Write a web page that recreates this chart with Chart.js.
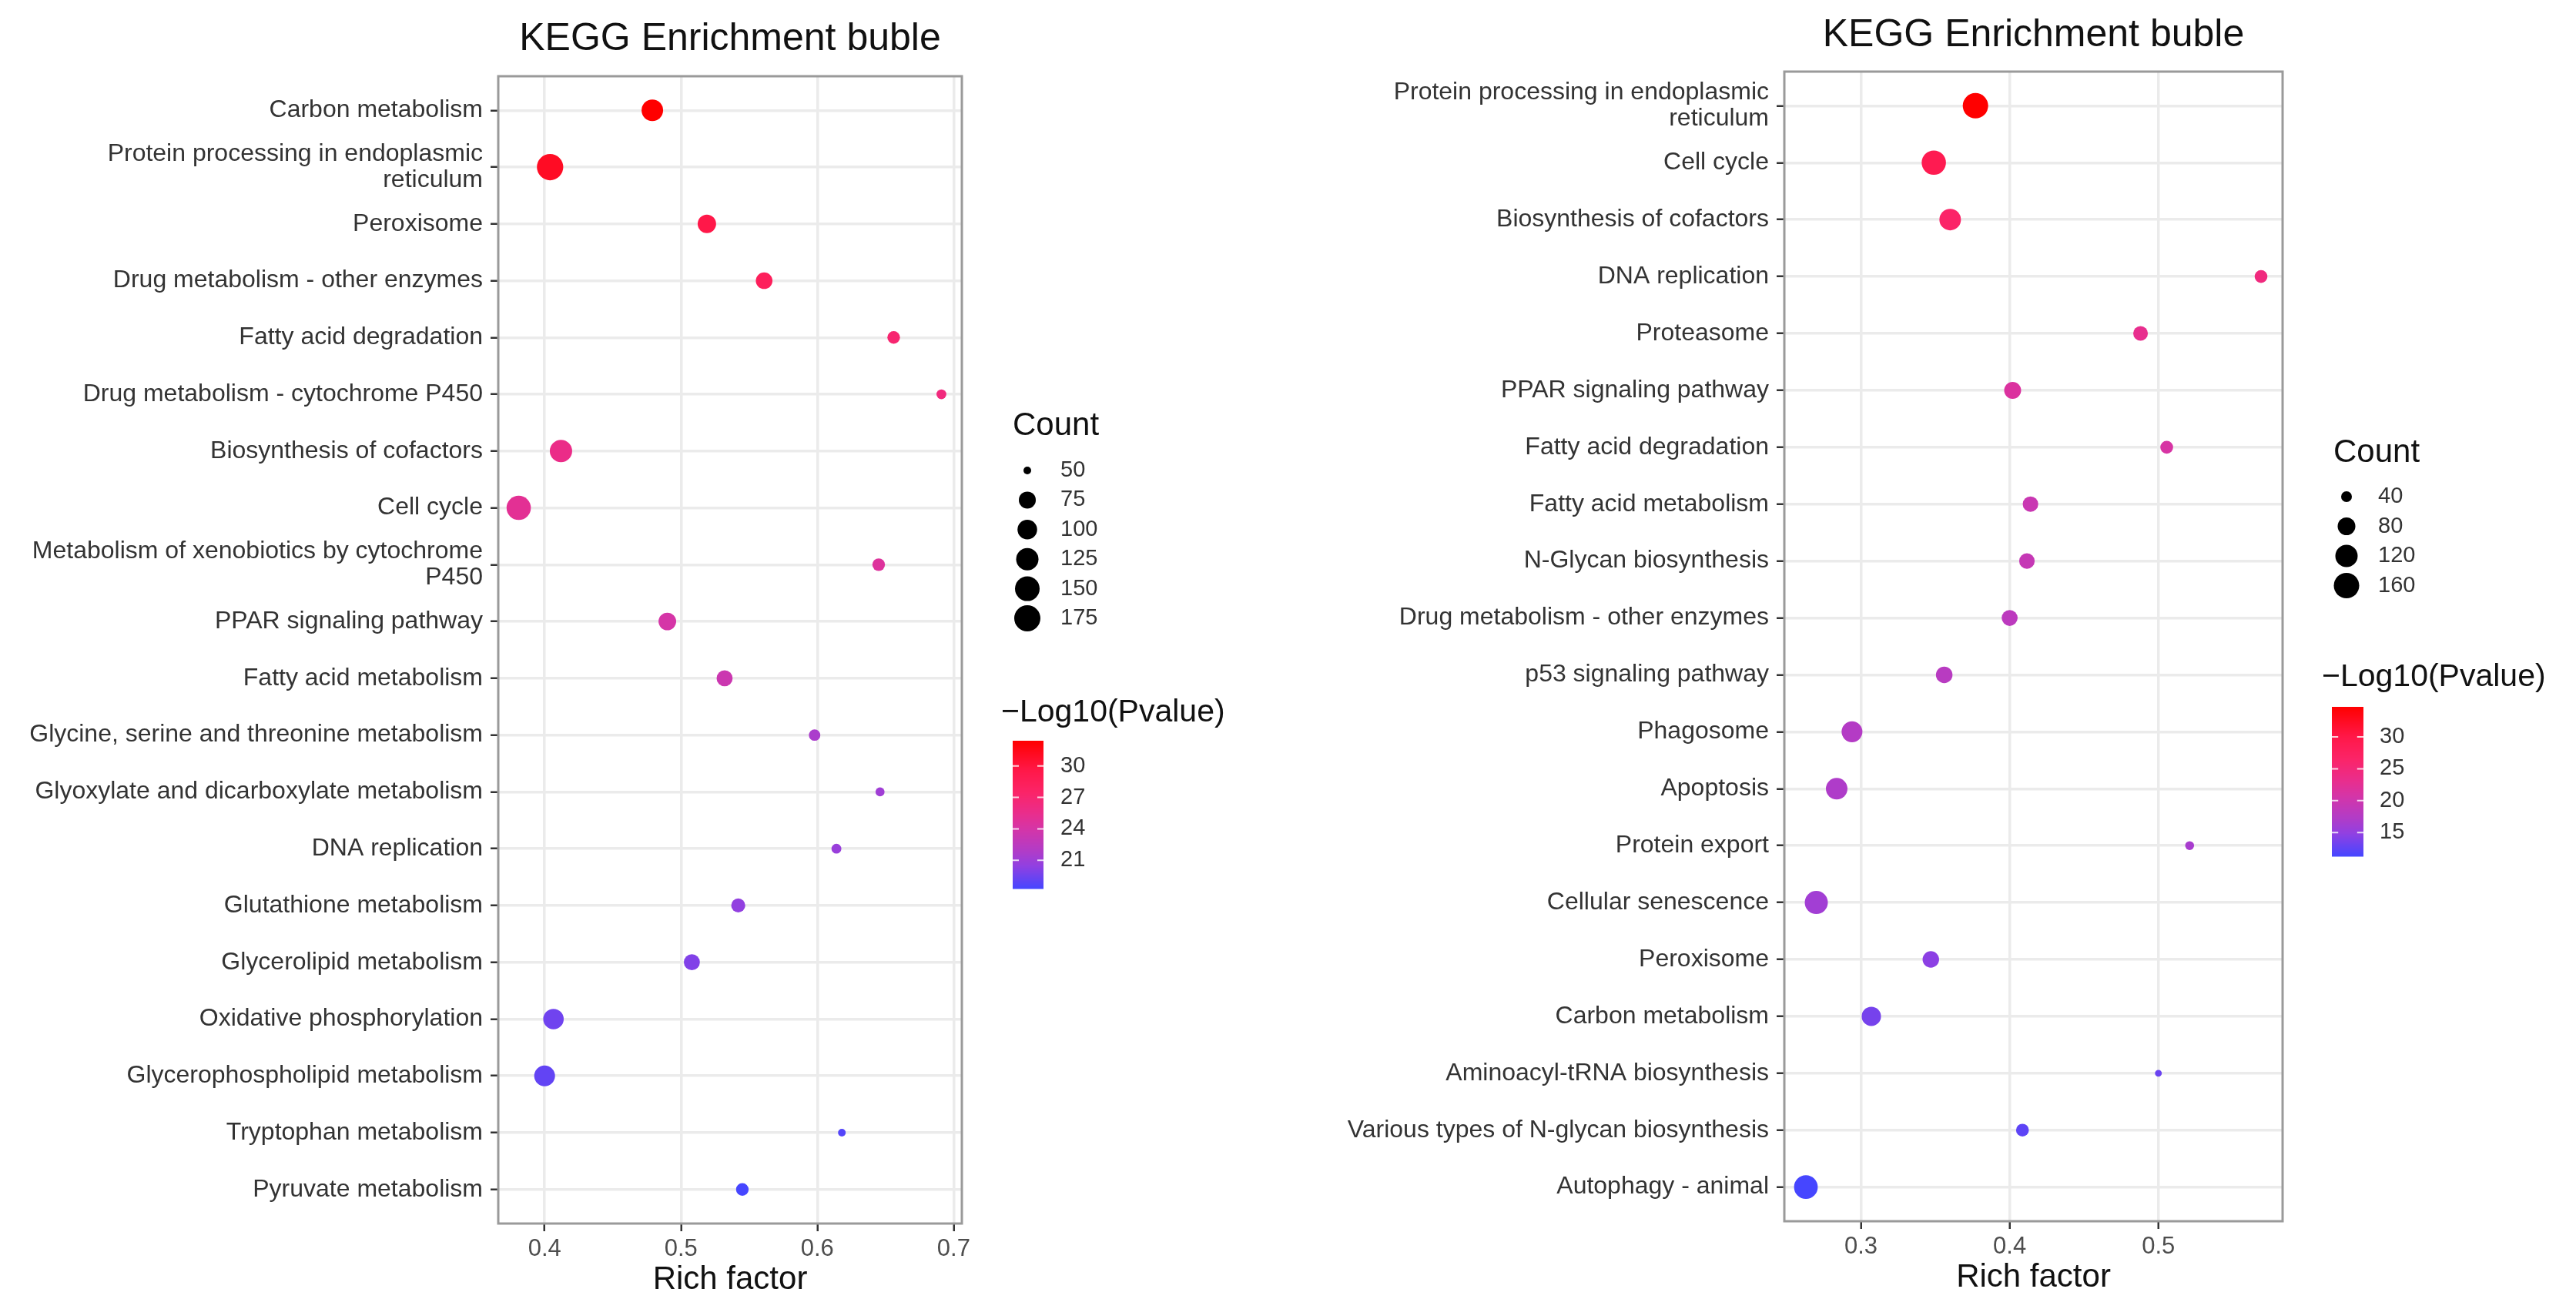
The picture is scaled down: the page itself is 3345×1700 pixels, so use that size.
<!DOCTYPE html>
<html><head><meta charset="utf-8">
<script src="https://cdn.jsdelivr.net/npm/chart.js@4.4.0/dist/chart.umd.min.js"></script>
<style>
html,body{margin:0;padding:0;background:#fff;width:3345px;height:1700px;overflow:hidden}
canvas{position:absolute;top:0}
#left{left:0;width:1690px;height:1700px}
#right{left:1690px;width:1655px;height:1700px}
</style></head>
<body>
<canvas id="left" width="1690" height="1700"></canvas>
<canvas id="right" width="1655" height="1700"></canvas>
<script>
// ---------------- DATA ----------------
const leftCategories = [
  "Carbon metabolism",
  "Protein processing in endoplasmic\nreticulum",
  "Peroxisome",
  "Drug metabolism - other enzymes",
  "Fatty acid degradation",
  "Drug metabolism - cytochrome P450",
  "Biosynthesis of cofactors",
  "Cell cycle",
  "Metabolism of xenobiotics by cytochrome\nP450",
  "PPAR signaling pathway",
  "Fatty acid metabolism",
  "Glycine, serine and threonine metabolism",
  "Glyoxylate and dicarboxylate metabolism",
  "DNA replication",
  "Glutathione metabolism",
  "Glycerolipid metabolism",
  "Oxidative phosphorylation",
  "Glycerophospholipid metabolism",
  "Tryptophan metabolism",
  "Pyruvate metabolism"
];
const leftRichFactor = [0.479,0.404,0.519,0.561,0.656,0.691,0.412,0.381,0.645,0.490,0.532,0.598,0.646,0.614,0.542,0.508,0.4065,0.400,0.618,0.545];
const leftCount      = [117,178,88,74,62,55,125,146,62,81,72,59,53,55,66,72,107,110,50,62];
const leftLogP       = [32.4,31.0,29.5,28.3,27.0,26.3,25.7,25.0,24.6,24.0,23.4,21.6,21.1,20.8,20.5,20.0,19.5,19.1,18.7,18.3];
const leftXTicks     = [0.4,0.5,0.6,0.7];
const leftCountBreaks = [50,75,100,125,150,175];
const leftPBreaks    = [21,24,27,30];

const rightCategories = [
  "Protein processing in endoplasmic\nreticulum",
  "Cell cycle",
  "Biosynthesis of cofactors",
  "DNA replication",
  "Proteasome",
  "PPAR signaling pathway",
  "Fatty acid degradation",
  "Fatty acid metabolism",
  "N-Glycan biosynthesis",
  "Drug metabolism - other enzymes",
  "p53 signaling pathway",
  "Phagosome",
  "Apoptosis",
  "Protein export",
  "Cellular senescence",
  "Peroxisome",
  "Carbon metabolism",
  "Aminoacyl-tRNA biosynthesis",
  "Various types of N-glycan biosynthesis",
  "Autophagy - animal"
];
const rightRichFactor = [0.377,0.349,0.360,0.569,0.488,0.402,0.5056,0.414,0.4116,0.400,0.356,0.294,0.2837,0.521,0.270,0.347,0.307,0.500,0.4086,0.263];
const rightCount      = [160,144,112,49,59,74,49,64,64,67,71,105,112,33,129,71,92,27,49,136];
const rightLogP       = [34.7,29.0,26.5,24.5,23.0,21.5,21.0,19.6,19.2,18.3,17.9,17.5,17.1,16.6,16.1,14.6,13.6,13.0,12.4,11.3];
const rightXTicks     = [0.3,0.4,0.5];
const rightCountBreaks = [40,80,120,160];
const rightPBreaks    = [15,20,25,30];

// ---------------- STYLE ----------------
const FONT = '"Liberation Sans", Arial, Helvetica, sans-serif';
// colour ramp (low -> high), sampled from the reference colour bar
const RAMP_POS = [0, 0.15, 0.25, 0.4, 0.5, 0.65, 0.8, 1];
const RAMP_COL = ['#4646FF','#9040E2','#B03CC8','#D435A8','#E82E8E','#FB2468','#FF1848','#FF0000'];

function hexToRgb(h){h=h.replace('#','');return [parseInt(h.substr(0,2),16),parseInt(h.substr(2,2),16),parseInt(h.substr(4,2),16)];}
const RAMP_RGB = RAMP_COL.map(hexToRgb);
function colorFor(v,vmin,vmax){let t=(v-vmin)/(vmax-vmin);t=Math.max(0,Math.min(1,t));
  let i=0;while(i<RAMP_POS.length-2&&t>RAMP_POS[i+1])i++;
  const u=(t-RAMP_POS[i])/(RAMP_POS[i+1]-RAMP_POS[i]);
  const c=[0,1,2].map(k=>Math.round(RAMP_RGB[i][k]+u*(RAMP_RGB[i+1][k]-RAMP_RGB[i][k])));
  return 'rgb('+c.join(',')+')';}

// size scale: diameter (px) at legend breaks, interpolated in log(count)
function diamFor(c,breaks,px){const lc=Math.log(c),lb=breaks.map(Math.log);let i=0;
  if(lc<=lb[0])i=0;else if(lc>=lb[lb.length-1])i=lb.length-2;else{while(lc>lb[i+1])i++;}
  const t=(lc-lb[i])/(lb[i+1]-lb[i]);return Math.max(4,px[i]+t*(px[i+1]-px[i]));}

function makeChart(cfg){
  const canvas=document.getElementById(cfg.id);
  const cw=canvas.width,ch=canvas.height,ox=cfg.offsetX;
  const n=cfg.categories.length;
  const vmin=Math.min(...cfg.logp),vmax=Math.max(...cfg.logp);
  const points=cfg.categories.map((c,i)=>({x:cfg.rich[i],y:i+1}));
  const gridStyle={color:'#ebebeb',lineWidth:3.5,tickLength:10,tickColor:'#333333',tickWidth:2.5,drawTicks:true};
  const L=cfg.legend;
  const decor={
    id:'decor'+cfg.id,
    afterDraw(chart){
      const ctx=chart.ctx,a=chart.chartArea;
      ctx.save();
      ctx.strokeStyle='#9a9a9a';ctx.lineWidth=3;
      ctx.strokeRect(a.left,a.top,a.right-a.left,a.bottom-a.top);
      ctx.fillStyle='#111';ctx.font='50px '+FONT;ctx.textAlign='center';ctx.textBaseline='middle';
      ctx.fillText('KEGG Enrichment buble',(a.left+a.right)/2,cfg.titleY);
      ctx.textAlign='left';
      ctx.font='42px '+FONT;ctx.fillStyle='#111';
      ctx.fillText('Count',L.countTitleX-ox,L.countTitleY);
      ctx.font='29px '+FONT;
      cfg.countBreaks.forEach((b,i)=>{
        const y=L.rowY0+i*L.rowDy;
        ctx.fillStyle='#000';ctx.beginPath();
        ctx.arc(L.dotX-ox,y,diamFor(b,cfg.countBreaks,cfg.sizePx)/2,0,Math.PI*2);ctx.fill();
        ctx.fillStyle='#333';ctx.fillText(String(b),L.labelX-ox,y);
      });
      ctx.font='41px '+FONT;ctx.fillStyle='#111';
      ctx.fillText('\u2212Log10(Pvalue)',L.pTitleX-ox,L.pTitleY);
      const bx=L.barX-ox,by=L.barY,bw=L.barW,bh=L.barH;
      for(let k=0;k<bh;k++){
        const v=vmax-(vmax-vmin)*(k+0.5)/bh;
        ctx.fillStyle=colorFor(v,vmin,vmax);ctx.fillRect(bx,by+k,bw,1.5);
      }
      ctx.font='29px '+FONT;
      cfg.pBreaks.forEach(b=>{
        const y=by+bh-(b-vmin)/(vmax-vmin)*bh;
        ctx.strokeStyle='rgba(255,255,255,0.8)';ctx.lineWidth=2;
        ctx.beginPath();ctx.moveTo(bx,y);ctx.lineTo(bx+bw/5,y);ctx.moveTo(bx+bw,y);ctx.lineTo(bx+bw-bw/5,y);ctx.stroke();
        ctx.fillStyle='#333';ctx.fillText(String(b),L.barLabelX-ox,y);
      });
      ctx.restore();
    }
  };
  return new Chart(canvas,{
    type:'scatter',
    data:{datasets:[{
      data:points,
      pointRadius:ctx=>diamFor(cfg.count[ctx.dataIndex],cfg.countBreaks,cfg.sizePx)/2,
      pointHoverRadius:ctx=>diamFor(cfg.count[ctx.dataIndex],cfg.countBreaks,cfg.sizePx)/2,
      pointBackgroundColor:ctx=>colorFor(cfg.logp[ctx.dataIndex],vmin,vmax),
      pointBorderWidth:0,
      clip:false
    }]},
    options:{
      responsive:false,animation:false,devicePixelRatio:1,
      events:[],
      layout:{padding:{left:0,top:cfg.plot.top,right:cw-(cfg.plot.right-ox),bottom:0}},
      plugins:{legend:{display:false},tooltip:{enabled:false},title:{display:false}},
      scales:{
        x:{type:'linear',position:'bottom',min:cfg.xMin,max:cfg.xMax,
          afterBuildTicks:s=>{s.ticks=cfg.xTicks.map(v=>({value:v}));},
          afterFit:s=>{s.height=ch-cfg.plot.bottom;},
          ticks:{font:{family:FONT,size:31},color:'#4d4d4d',padding:5,maxRotation:0,autoSkip:false,callback:v=>Number(v).toFixed(1)},
          grid:gridStyle,border:{display:false},
          title:{display:true,text:'Rich factor',font:{family:FONT,size:42},color:'#111',padding:{top:0,bottom:cfg.xTitlePad}}
        },
        y:{type:'linear',position:'left',reverse:true,min:0.4,max:n+0.6,
          afterBuildTicks:s=>{s.ticks=cfg.categories.map((c,i)=>({value:i+1}));},
          afterFit:s=>{s.width=cfg.plot.left-ox;},
          ticks:{autoSkip:false,font:{family:FONT,size:32,lineHeight:1.05},color:'#333',padding:10,
            callback:v=>cfg.categories[Math.round(v)-1].split('\n')},
          grid:gridStyle,border:{display:false}
        }
      }
    },
    plugins:[decor]
  });
}

makeChart({
  id:'left',offsetX:0,categories:leftCategories,rich:leftRichFactor,count:leftCount,logp:leftLogP,
  xMin:0.366,xMax:0.706,xTicks:leftXTicks,plot:{left:647,right:1249,top:99,bottom:1589},
  titleY:51.5,xTitlePad:12,countBreaks:leftCountBreaks,sizePx:[10,22,25.5,29,32,34],pBreaks:leftPBreaks,
  legend:{countTitleX:1315,countTitleY:553,rowY0:611,rowDy:38.4,dotX:1334,labelX:1377,
    pTitleX:1300,pTitleY:926,barX:1315,barY:962,barW:40,barH:192,barLabelX:1377}
});
makeChart({
  id:'right',offsetX:1690,categories:rightCategories,rich:rightRichFactor,count:rightCount,logp:rightLogP,
  xMin:0.2485,xMax:0.5835,xTicks:rightXTicks,plot:{left:2317,right:2964,top:93,bottom:1586},
  titleY:46,xTitlePad:15,countBreaks:rightCountBreaks,sizePx:[14,23,29,33],pBreaks:rightPBreaks,
  legend:{countTitleX:3030,countTitleY:588,rowY0:645,rowDy:38.5,dotX:3047,labelX:3088,
    pTitleX:3015,pTitleY:880,barX:3028,barY:918,barW:41,barH:194,barLabelX:3090}
});
</script>
</body></html>
